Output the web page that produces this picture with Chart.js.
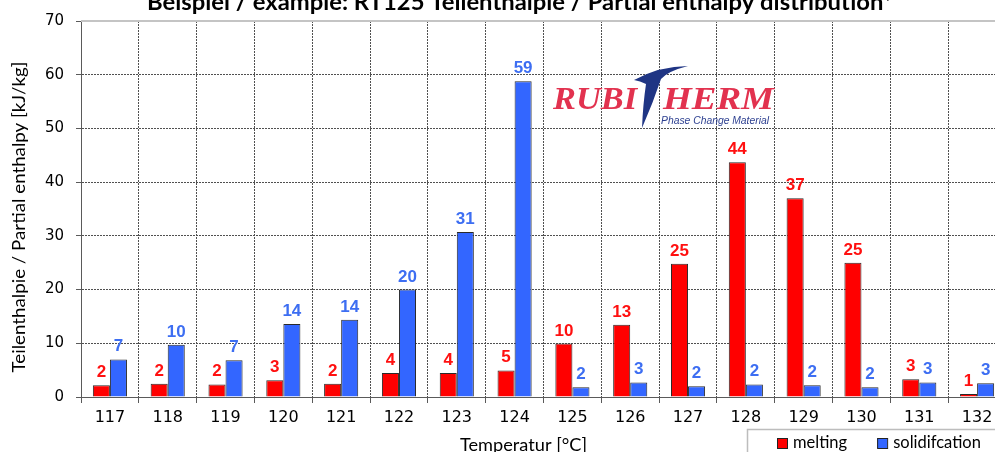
<!DOCTYPE html>
<html>
<head>
<meta charset="utf-8">
<script src="https://cdn.jsdelivr.net/npm/chart.js@4.4.0/dist/chart.umd.min.js"></script>
<style>
  html, body { margin: 0; padding: 0; background: #fff; overflow: hidden; }
  #wrap { position: relative; width: 995px; height: 452px; overflow: hidden; }
  canvas { display: block; }
</style>
</head>
<body>
<div id="wrap"><canvas id="enthalpyChart" width="1006" height="452"></canvas></div>
<script>
// Data
const temperatures = ['117', '118', '119', '120', '121', '122', '123', '124',
                      '125', '126', '127', '128', '129', '130', '131', '132'];
const melting = [2.2, 2.45, 2.35, 3.1, 2.45, 4.45, 4.45, 4.95,
                 9.95, 13.45, 24.8, 43.7, 37.0, 25.0, 3.3, 0.55];
const solidification = [7.0, 9.75, 6.85, 13.6, 14.4, 20.0, 30.7, 58.8,
                        1.8, 2.7, 2.0, 2.35, 2.2, 1.8, 2.7, 2.55];
const yTicks = [0, 10, 20, 30, 40, 50, 60, 70];

const chartTitle = 'Beispiel / example: RT125 Teilenthalpie / Partial enthalpy distribution*';
const xTitle = 'Temperatur [°C]';
const yTitle = 'Teilenthalpie / Partial enthalpy [kJ/kg]';

const GRID = '#505050';
const AXIS = '#5a5a5a';

// draw text squeezed/stretched to a given width (the original uses a wide Calibri)
function fitText(ctx, txt, x, y, w, align) {
  const k = w / ctx.measureText(txt).width;
  ctx.save();
  ctx.translate(x, y);
  ctx.scale(k, 1);
  ctx.textAlign = align || 'left';
  ctx.fillText(txt, 0, 0);
  ctx.restore();
}

// titles, legend box and top frame line
const captions = {
  id: 'captions',
  beforeDatasetsDraw(chart) {
    const { ctx, chartArea } = chart;
    ctx.save();
    ctx.strokeStyle = '#c4c4c4';
    ctx.lineWidth = 2;
    ctx.beginPath();
    ctx.moveTo(chartArea.left, chartArea.top);
    ctx.lineTo(chartArea.right, chartArea.top);
    ctx.stroke();
    ctx.restore();
  },
  afterDraw(chart) {
    const { ctx } = chart;
    ctx.save();
    ctx.fillStyle = '#000';
    ctx.textBaseline = 'alphabetic';
    ctx.font = 'bold 22px Lato';
    fitText(ctx, chartTitle, 520, 10, 746, 'center');

    ctx.font = '17.5px Lato';
    fitText(ctx, xTitle, 523.5, 451, 127, 'center');

    ctx.save();
    ctx.translate(25, 217);
    ctx.rotate(-Math.PI / 2);
    ctx.font = '18px Lato';
    fitText(ctx, yTitle, 0, 0, 311, 'center');
    ctx.restore();

    // legend
    ctx.strokeStyle = '#bdbdbd';
    ctx.lineWidth = 1.5;
    ctx.strokeRect(747.5, 429.5, 300, 60);
    ctx.font = '16.5px Lato';
    ctx.textAlign = 'left';
    let x = 777;
    chart.data.datasets.forEach(ds => {
      ctx.fillStyle = ds.backgroundColor;
      ctx.fillRect(x, 438, 10, 10);
      ctx.strokeStyle = '#222';
      ctx.lineWidth = 1;
      ctx.strokeRect(x + 0.5, 438.5, 10, 10);
      ctx.fillStyle = '#000';
      ctx.fillText(ds.label, x + 16, 448);
      x += 16 + ctx.measureText(ds.label).width + 30;
    });
    ctx.restore();
  }
};

// numbers above the bars
const valueLabels = {
  id: 'valueLabels',
  afterDatasetsDraw(chart) {
    const { ctx } = chart;
    ctx.save();
    ctx.font = 'bold 17px "Liberation Sans"';
    ctx.textAlign = 'center';
    ctx.textBaseline = 'alphabetic';
    chart.data.datasets.forEach((ds, i) => {
      ctx.fillStyle = ds.labelColor;
      chart.getDatasetMeta(i).data.forEach((bar, j) => {
        ctx.fillText(String(Math.round(ds.data[j])), bar.x, bar.y - 8);
      });
    });
    ctx.restore();
  }
};

// RUBITHERM logo
const logo = {
  id: 'logo',
  afterDraw(chart) {
    const { ctx } = chart;
    ctx.save();
    ctx.textBaseline = 'alphabetic';
    ctx.font = 'italic bold 32px "Liberation Serif"';
    ctx.fillStyle = '#e2324f';
    fitText(ctx, 'RUBI', 553, 109, 84);
    fitText(ctx, 'HERM', 663, 109, 111);

    // the swoosh "T"
    ctx.fillStyle = '#1f3584';
    ctx.beginPath();
    ctx.moveTo(634, 80);
    ctx.quadraticCurveTo(660, 66, 688, 66);
    ctx.quadraticCurveTo(668, 71, 661, 79);
    ctx.quadraticCurveTo(653, 103, 642, 128);
    ctx.quadraticCurveTo(643, 104, 646, 84);
    ctx.quadraticCurveTo(640, 81, 634, 80);
    ctx.closePath();
    ctx.fill();

    ctx.font = 'italic 10.5px "Liberation Sans"';
    ctx.fillStyle = '#2c3f90';
    fitText(ctx, 'Phase Change Material', 661, 124, 108);
    ctx.restore();
  }
};

new Chart(document.getElementById('enthalpyChart').getContext('2d'), {
  type: 'bar',
  data: {
    labels: temperatures,
    datasets: [
      { label: 'melting', data: melting, backgroundColor: '#ff0000', borderColor: '#2a2a2a',
        borderWidth: 1, labelColor: '#ff1010' },
      { label: 'solidifcation', data: solidification, backgroundColor: '#3366ff', borderColor: '#2a2a2a',
        borderWidth: 1, labelColor: '#3d6ef2' }
    ]
  },
  options: {
    responsive: false,
    animation: false,
    devicePixelRatio: 1,
    layout: { padding: { top: 19, left: 0, right: 0, bottom: 0 } },
    datasets: { bar: { barPercentage: 1, categoryPercentage: 0.59 } },
    plugins: {
      legend: { display: false },
      title: { display: false },
      tooltip: { enabled: false }
    },
    scales: {
      x: {
        grid: { color: GRID, tickColor: AXIS, tickLength: 6, offset: true },
        border: { color: AXIS, width: 1, dash: [2, 1] },
        ticks: { color: '#000', font: { family: 'DejaVu Sans', size: 16 }, padding: 5, maxRotation: 0 },
        afterFit: s => { s.height = 55; }
      },
      y: {
        min: yTicks[0],
        max: yTicks[yTicks.length - 1],
        afterBuildTicks: s => { s.ticks = yTicks.map(v => ({ value: v })); },
        grid: {
          color: c => (c.tick && c.tick.value === yTicks[yTicks.length - 1]) ? 'rgba(0,0,0,0)' : GRID,
          tickColor: AXIS, tickLength: 5
        },
        border: { color: AXIS, width: 1, dash: [2, 1] },
        ticks: { color: '#000', font: { family: 'DejaVu Sans', size: 15 }, padding: 12 },
        afterFit: s => { s.width = 81; }
      }
    }
  },
  plugins: [captions, valueLabels, logo]
});
</script>
</body>
</html>
